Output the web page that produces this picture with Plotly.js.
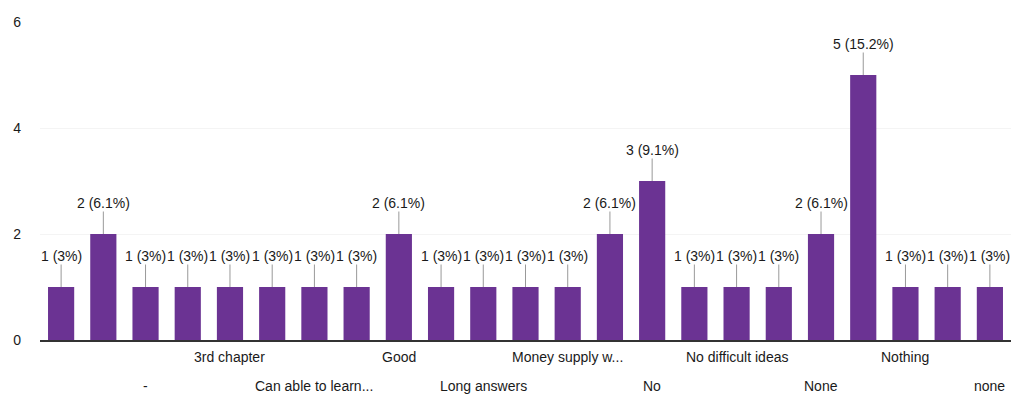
<!DOCTYPE html>
<html>
<head>
<meta charset="utf-8">
<script src="https://cdn.plot.ly/plotly-3.0.1.min.js"></script>
<style>html,body{margin:0;padding:0;background:#fff;}#chart{width:1015px;height:417px;}</style>
</head>
<body>
<div id="chart"></div>
<script>
// Category labels (only every other one is printed on the axis; unreadable ones left blank)
const categories = ["", "", "-", "", "3rd chapter", "", "Can able to learn...", "", "Good", "",
  "Long answers", "", "Money supply w...", "", "No", "", "No difficult ideas", "", "None", "",
  "Nothing", "", "none"];
// Response counts
const counts = [1, 2, 1, 1, 1, 1, 1, 1, 2, 1, 1, 1, 1, 2, 3, 1, 1, 1, 2, 5, 1, 1, 1];
const yTicks = [0, 2, 4, 6];

const total = counts.reduce((a, b) => a + b, 0);
const idx = counts.map((_, i) => i);
const pctLabel = v => v + " (" + parseFloat((v / total * 100).toFixed(1)) + "%)";
const FONT = 'Liberation Sans, Arial, sans-serif';

const annotations = [];
counts.forEach((v, i) => {
  annotations.push({
    x: i, y: v, xref: 'x', yref: 'y', text: pctLabel(v),
    showarrow: true, arrowhead: 0, arrowwidth: 1, arrowcolor: '#999',
    ax: 0, ay: -31, bgcolor: 'rgba(255,255,255,1)', borderpad: 0,
    font: {family: FONT, size: 14, color: '#1a1a1a'}
  });
});
// category labels, staggered in two rows
let row = 0;
categories.forEach((c, i) => {
  if (i % 2 === 0 && i > 0) {
    annotations.push({
      x: i, y: 0, xref: 'x', yref: 'y', text: c, showarrow: false,
      yanchor: 'middle', yshift: row === 1 ? -17 : -46,
      font: {family: FONT, size: 14, color: '#1a1a1a'}
    });
    row = 1 - row;
  }
});

const trace = {
  type: 'bar', x: idx, y: counts, textposition: 'none',
  marker: {color: '#6b3393'}, hoverinfo: 'y'
};

const layout = {
  width: 1015, height: 417,
  margin: {l: 40, r: 4, t: 22, b: 77},
  paper_bgcolor: '#fff', plot_bgcolor: '#fff',
  bargap: 0.38, showlegend: false,
  xaxis: {range: [-0.5, 22.5], showticklabels: false, ticks: '', showgrid: false,
          zeroline: false, showline: true, linecolor: '#333', linewidth: 1.5, fixedrange: true},
  yaxis: {range: [0, 6], tickvals: yTicks, ticktext: yTicks.map(String),
          showgrid: true, gridcolor: '#f4f4f4', zeroline: false, ticks: '',
          ticklabelstandoff: 18,
          tickfont: {family: FONT, size: 14, color: '#1a1a1a'}},
  annotations: annotations
};
Plotly.newPlot('chart', [trace], layout, {displayModeBar: false, staticPlot: true});
</script>
</body>
</html>
